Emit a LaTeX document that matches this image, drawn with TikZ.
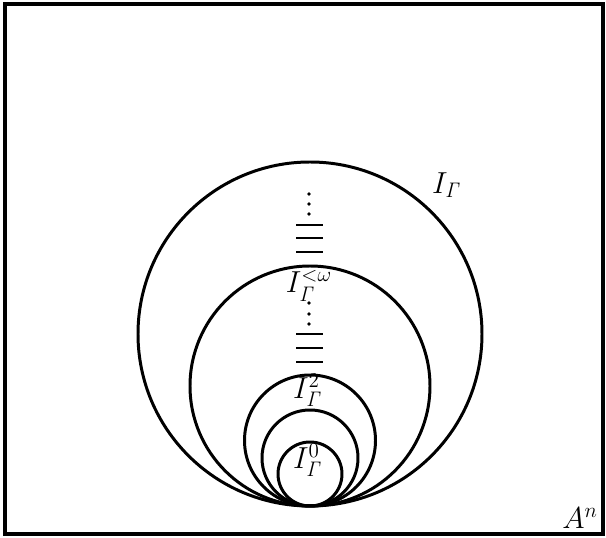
\documentclass[tikz,border=0pt]{standalone}
\usepackage{amsmath}
\usepackage{amssymb}
\usepackage{tikz}
\usetikzlibrary{positioning}
\tikzset{
    ring/.style={draw=black, line width=1.7pt},
    frame/.style={draw=black, line width=2pt},
    tag/.style={inner sep=1pt, font=\LARGE},
    bar/.style={draw=black, line width=1.7pt},
    dot/.style={fill=black}
}

\begin{document}
\begin{tikzpicture}[x=0.02cm, y=0.02cm]
        \useasboundingbox (0,0) rectangle (606,538);

        % Cornice esterna
        \draw [frame] (5,4) rectangle (603,534);

        % Cerchi tangenti nel punto in basso
        \coordinate (base) at (310,32);
        \draw [ring] (310,204) circle (172);
        \draw [ring] (310,152) circle (120);
        \draw [ring] (310,97.5) circle (65.5);
        \draw [ring] (310,80) circle (48);
        \draw [ring] (310,64) circle (32);

        % Etichette
        \node (igamma) [tag] at (447,353) {$I_{\mathit{\Gamma}}$};
        \node (iomega) [tag] at (309,252) {$I_{\mathit{\Gamma}}^{<\omega}$};
        \node (idue) [tag] at (308,148) {$I_{\mathit{\Gamma}}^{2}$};
        \node (izero) [tag] at (308,78) {$I_{\mathit{\Gamma}}^{0}$};
        \node (spazio) [tag] at (580,20) {$A^{n}$};

        % Puntini e trattini
        \foreach \y in {344,334,324,235,224,214}
            \fill [dot] (309,\y) circle (1.8);
        \foreach \y in {313,300,286,204,190,176}
            \draw [bar] (296,\y) -- (323,\y);

    \end{tikzpicture}
\end{document}
